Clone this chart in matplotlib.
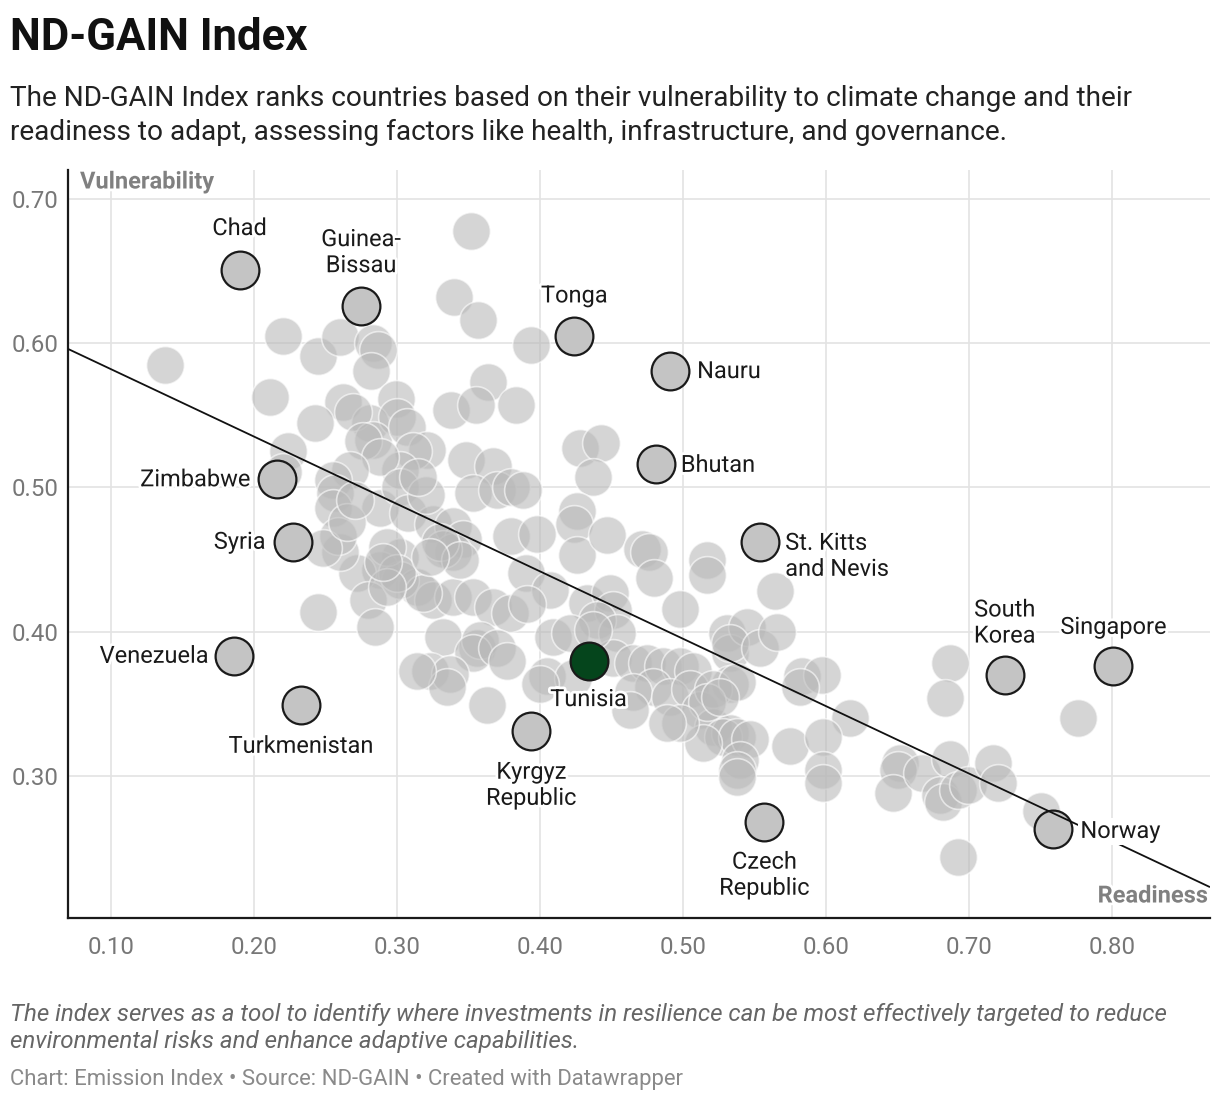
import matplotlib
matplotlib.use("Agg")
import matplotlib.pyplot as plt
import matplotlib.patheffects as pe

plt.rcParams['font.family'] = ['Roboto', 'DejaVu Sans']

# ---------------- data ----------------
# other countries (readiness, vulnerability)
other_readiness = [
    0.138, 0.220, 0.211, 0.245, 0.260, 0.283, 0.287, 0.282, 0.262, 0.299,
    0.243, 0.338, 0.340, 0.352, 0.357, 0.394, 0.364, 0.355, 0.383, 0.428,
    0.443, 0.437, 0.348, 0.367, 0.224, 0.220, 0.281, 0.269, 0.300, 0.283,
    0.276, 0.307, 0.321, 0.311, 0.302, 0.288, 0.267, 0.255, 0.257, 0.255,
    0.288, 0.302, 0.308, 0.325, 0.339, 0.346, 0.339, 0.332, 0.302, 0.288,
    0.272, 0.260, 0.259, 0.353, 0.370, 0.380, 0.380, 0.390, 0.280, 0.285,
    0.245, 0.314, 0.325, 0.339, 0.353, 0.367, 0.379, 0.332, 0.356, 0.302,
    0.293, 0.388, 0.426, 0.424, 0.426, 0.447, 0.471, 0.476, 0.480, 0.517,
    0.517, 0.498, 0.398, 0.407, 0.433, 0.449, 0.451, 0.440, 0.454, 0.391,
    0.318, 0.300, 0.293, 0.290, 0.330, 0.344, 0.323, 0.358, 0.353, 0.370,
    0.377, 0.323, 0.337, 0.335, 0.314, 0.363, 0.409, 0.405, 0.423, 0.451,
    0.465, 0.475, 0.486, 0.498, 0.507, 0.479, 0.465, 0.491, 0.505, 0.512,
    0.463, 0.531, 0.533, 0.521, 0.533, 0.533, 0.421, 0.437, 0.564, 0.545,
    0.533, 0.554, 0.566, 0.521, 0.538, 0.517, 0.583, 0.597, 0.582, 0.617,
    0.575, 0.598, 0.598, 0.598, 0.528, 0.538, 0.547, 0.540, 0.538, 0.538,
    0.514, 0.498, 0.489, 0.526, 0.400, 0.687, 0.683, 0.776, 0.652, 0.650,
    0.647, 0.667, 0.687, 0.680, 0.682, 0.692, 0.699, 0.717, 0.720, 0.750,
    0.692, 0.248, 0.265, 0.320, 0.315, 0.271,
]
other_vulnerability = [
    0.585, 0.605, 0.563, 0.591, 0.604, 0.600, 0.595, 0.581, 0.559, 0.561,
    0.545, 0.554, 0.632, 0.678, 0.616, 0.599, 0.573, 0.557, 0.557, 0.527,
    0.531, 0.507, 0.519, 0.515, 0.525, 0.511, 0.545, 0.552, 0.549, 0.533,
    0.532, 0.542, 0.526, 0.525, 0.512, 0.521, 0.512, 0.505, 0.496, 0.486,
    0.486, 0.500, 0.482, 0.475, 0.473, 0.464, 0.455, 0.457, 0.452, 0.443,
    0.441, 0.455, 0.466, 0.496, 0.498, 0.500, 0.466, 0.441, 0.422, 0.403,
    0.414, 0.431, 0.422, 0.424, 0.424, 0.417, 0.413, 0.396, 0.389, 0.436,
    0.459, 0.498, 0.484, 0.475, 0.453, 0.467, 0.457, 0.455, 0.437, 0.450,
    0.439, 0.416, 0.468, 0.429, 0.420, 0.427, 0.415, 0.408, 0.399, 0.419,
    0.427, 0.441, 0.431, 0.448, 0.462, 0.450, 0.452, 0.394, 0.385, 0.389,
    0.380, 0.373, 0.371, 0.362, 0.373, 0.349, 0.396, 0.369, 0.368, 0.382,
    0.378, 0.378, 0.376, 0.376, 0.373, 0.362, 0.358, 0.355, 0.360, 0.346,
    0.346, 0.399, 0.385, 0.334, 0.330, 0.364, 0.399, 0.401, 0.428, 0.403,
    0.392, 0.389, 0.400, 0.360, 0.365, 0.351, 0.369, 0.370, 0.362, 0.340,
    0.321, 0.327, 0.304, 0.295, 0.327, 0.327, 0.326, 0.311, 0.304, 0.299,
    0.323, 0.337, 0.337, 0.355, 0.364, 0.378, 0.354, 0.340, 0.309, 0.304,
    0.288, 0.302, 0.312, 0.287, 0.282, 0.290, 0.294, 0.309, 0.295, 0.276,
    0.244, 0.458, 0.476, 0.495, 0.507, 0.491,
]

# labelled countries
label_names = ["Chad", "Guinea-\nBissau", "Tonga", "Nauru", "Bhutan", "Zimbabwe",
               "Syria", "St. Kitts\nand Nevis", "Venezuela", "Turkmenistan",
               "Kyrgyz\nRepublic", "Tunisia", "Czech\nRepublic", "South\nKorea",
               "Singapore", "Norway"]
label_readiness = [0.190, 0.275, 0.424, 0.491, 0.481, 0.216, 0.227, 0.554,
                   0.186, 0.233, 0.394, 0.434, 0.557, 0.725, 0.801, 0.759]
label_vulnerability = [0.651, 0.626, 0.605, 0.581, 0.516, 0.506, 0.462, 0.462,
                       0.383, 0.349, 0.331, 0.380, 0.268, 0.370, 0.376, 0.263]
highlight_country = "Tunisia"

# trend line end points
trend_readiness = [0.07, 0.8685]
trend_vulnerability = [0.596, 0.223]

x_ticks = [0.10, 0.20, 0.30, 0.40, 0.50, 0.60, 0.70, 0.80]
y_ticks = [0.30, 0.40, 0.50, 0.60, 0.70]

# label placement (offset in pixels, alignment)
placement = {
    "Chad": (0, 41, "center"), "Guinea-\nBissau": (0, 53, "center"),
    "Tonga": (0, 40, "center"), "Nauru": (27, -1, "left"),
    "Bhutan": (25, -1, "left"), "Zimbabwe": (-26, -1, "right"),
    "Syria": (-27, 0, "right"), "St. Kitts\nand Nevis": (25, -14, "left"),
    "Venezuela": (-25, 0, "right"), "Turkmenistan": (0, -41, "center"),
    "Kyrgyz\nRepublic": (0, -54, "center"), "Tunisia": (0, -39, "center"),
    "Czech\nRepublic": (0, -53, "center"), "South\nKorea": (0, 52, "center"),
    "Singapore": (0, 39, "center"), "Norway": (27, -2, "left"),
}

# ---------------- figure ----------------
W, H = 1220, 1102
fig = plt.figure(figsize=(W / 100, H / 100), dpi=100)
ax = fig.add_axes([68 / W, 1 - 918 / H, (1210 - 68) / W, (918 - 170) / H])
ax.set_xlim(0.07, 0.8685)
ax.set_ylim(0.2016, 0.72)

ax.set_xticks(x_ticks)
ax.set_xticklabels([f"{v:.2f}" for v in x_ticks])
ax.set_yticks(y_ticks)
ax.set_yticklabels([f"{v:.2f}" for v in y_ticks])
ax.tick_params(length=0, labelsize=17.3, colors="#777777")
ax.tick_params(axis='y', pad=7)
ax.tick_params(axis='x', pad=13)
ax.grid(True, color="#e3e3e3", linewidth=1.2, zorder=0)
ax.set_axisbelow(True)
for s in ["top", "right"]:
    ax.spines[s].set_visible(False)
for s in ["left", "bottom"]:
    ax.spines[s].set_color("#1a1a1a")
    ax.spines[s].set_linewidth(1.6)

msize = 740
ax.scatter(other_readiness, other_vulnerability, s=msize, c="#b9b9b9",
           alpha=0.6, edgecolors="white", linewidths=1.2, zorder=2)

for name, xr, yv in zip(label_names, label_readiness, label_vulnerability):
    fc = "#05451c" if name == highlight_country else "#c4c4c4"
    ax.scatter([xr], [yv], s=msize, c=fc, edgecolors="#1a1a1a",
               linewidths=1.6, zorder=4)

ax.plot(trend_readiness, trend_vulnerability, color="#111111", linewidth=1.3,
        zorder=5, solid_capstyle="butt")

halo = [pe.withStroke(linewidth=4, foreground="white")]
for name, xr, yv in zip(label_names, label_readiness, label_vulnerability):
    dx, dy, ha = placement[name]
    kw = {}
    if name == "Norway":
        kw["bbox"] = dict(boxstyle="square,pad=0.1", fc="white", ec="none")
    t = ax.annotate(name, (xr, yv), xytext=(dx * 0.72, dy * 0.72),
                    textcoords="offset points", ha=ha, va="center",
                    fontsize=17, color="#1a1a1a", zorder=6,
                    linespacing=1.17, **kw)
    t.set_path_effects(halo)

ax.text(80 / W, 1 - 182 / H, "Vulnerability", transform=fig.transFigure,
        fontsize=17, fontweight="bold", color="#808080", ha="left",
        va="center", zorder=7, path_effects=halo)
ax.text(1208 / W, 1 - 896 / H, "Readiness", transform=fig.transFigure,
        fontsize=17, fontweight="bold", color="#808080", ha="right",
        va="center", zorder=7, path_effects=halo)

# ---------------- titles & notes ----------------
fig.text(10 / W, 1 - 50 / H, "ND-GAIN Index", fontsize=31.5, fontweight="bold",
         color="#111111", ha="left", va="baseline")
fig.text(10 / W, 1 - 106 / H,
         "The ND-GAIN Index ranks countries based on their vulnerability to climate change and their",
         fontsize=20.2, color="#222222", ha="left", va="baseline")
fig.text(10 / W, 1 - 139.5 / H,
         "readiness to adapt, assessing factors like health, infrastructure, and governance.",
         fontsize=20.2, color="#222222", ha="left", va="baseline")
fig.text(10 / W, 1 - 1021 / H,
         "The index serves as a tool to identify where investments in resilience can be most effectively targeted to reduce",
         fontsize=17.4, style="italic", color="#666666", ha="left", va="baseline")
fig.text(10 / W, 1 - 1048 / H,
         "environmental risks and enhance adaptive capabilities.",
         fontsize=17.4, style="italic", color="#666666", ha="left", va="baseline")
fig.text(10 / W, 1 - 1085 / H,
         "Chart: Emission Index \u2022 Source: ND-GAIN \u2022 Created with Datawrapper",
         fontsize=15.9, color="#8a8a8a", ha="left", va="baseline")

fig.savefig("out.png", dpi=100, facecolor="white")
